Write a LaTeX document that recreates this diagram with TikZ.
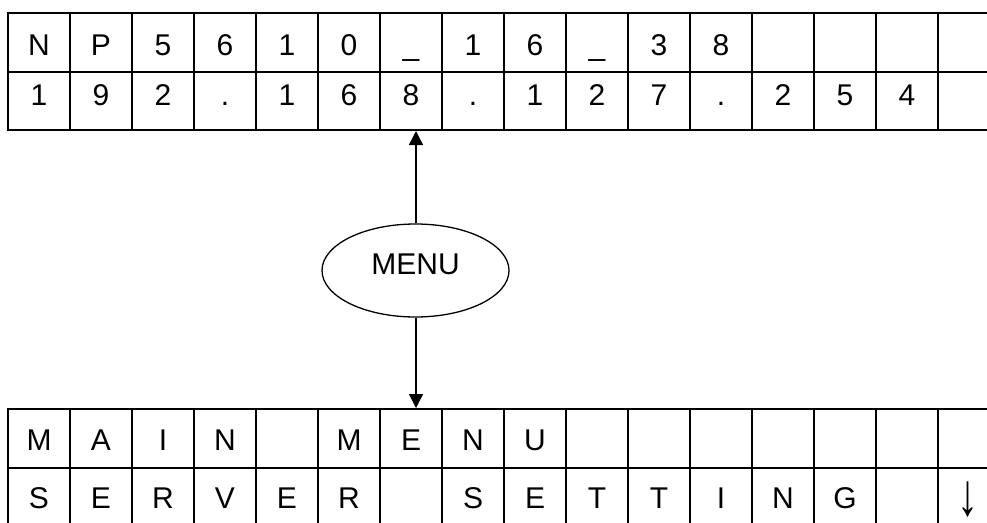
\documentclass[tikz,border=0pt]{standalone}
\usepackage{fontspec}
\setmainfont{Liberation Sans}
\usetikzlibrary{arrows.meta,shapes.geometric}
\begin{document}
\begin{tikzpicture}[x=1pt,y=-1pt,
  gridline/.style={line width=2pt},
  cell/.style={font=\fontsize{30}{30}\selectfont, anchor=base, inner sep=0pt},
  conn/.style={line width=1.3pt, -{Triangle[length=14pt,width=14pt]}}]
\useasboundingbox (0,0) rectangle (987,522);
\fill[white] (0,0) rectangle (987,522);
% top grid
\foreach \y in {13,71.5,130} \draw[gridline] (7,\y) -- (1001,\y);
\foreach \i in {0,...,16} \draw[gridline] ({8+62*\i},13) -- ({8+62*\i},130);
% bottom grid
\foreach \y in {409,468,527} \draw[gridline] (7,\y) -- (1001,\y);
\foreach \i in {0,...,16} \draw[gridline] ({8+62*\i},409) -- ({8+62*\i},530);
% texts
\foreach \c [count=\i from 0] in {N,P,5,6,1,0,\_,1,6,\_,3,8}
  \node[cell] (a\i) at ({39+62*\i},55) {\c};
\foreach \c [count=\i from 0] in {1,9,2,.,1,6,8,.,1,2,7,.,2,5,4}
  \node[cell] (b\i) at ({39+62*\i},105) {\c};
\foreach \c [count=\i from 0] in {M,A,I,N,{},M,E,N,U}
  \node[cell] (c\i) at ({39+62*\i},450) {\c};
\foreach \c [count=\i from 0] in {S,E,R,V,E,R,{},S,E,T,T,I,N,G}
  \node[cell] (d\i) at ({39+62*\i},508) {\c};
\node[inner sep=0pt, anchor=south, font=\fontsize{30}{30}\selectfont] (d15) at (968,517)
  {\scalebox{1.4}[2.0]{↓}};
% menu
\node[ellipse, draw, line width=1.3pt, minimum width=187pt, minimum height=93pt, inner sep=0pt,
  font=\fontsize{30}{30}\selectfont, text height=22pt, text depth=15pt] (menu) at (415.5,270.5) {MENU};
\coordinate (topin) at (416,131);
\coordinate (botin) at (416,408);
\draw[conn] (menu.north -| topin) -- (topin);
\draw[conn] (menu.south -| botin) -- (botin);
\end{tikzpicture}
\end{document}
